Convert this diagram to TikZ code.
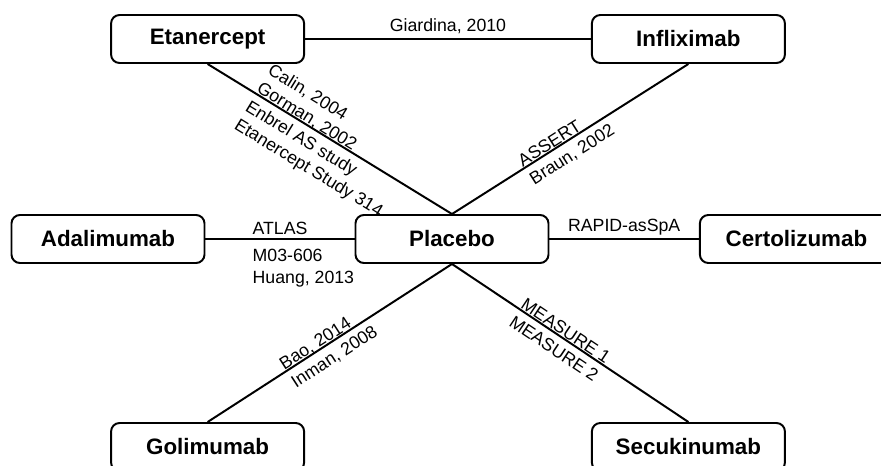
\documentclass[tikz,border=0pt]{standalone}
\usepackage{fontspec}
\setmainfont{Liberation Sans}
\begin{document}
\begin{tikzpicture}[
    drug/.style={draw, line width=1.4pt, rounded corners=6pt, minimum width=4.825cm, minimum height=1.2cm, font=\fontsize{15.9}{19}\selectfont\bfseries},
    study/.style={font=\fontsize{12.6}{15}\selectfont},
    studyup/.style={study, sloped, anchor=south west, align=left, inner xsep=0pt, inner ysep=0.5pt, text depth=0pt},
    studydown/.style={study, sloped, anchor=north west, align=left, inner xsep=0pt, inner ysep=4.5pt},
    link/.style={line width=1.4pt}
  ]
    \useasboundingbox (-11.3, -5.65) rectangle (10.725, 5.975);

    \node[drug] (pla) at (0, 0) {Placebo};
    \node[drug] (eta) at (-6.11, 5) {Etanercept};
    \node[drug] (inf) at (5.91, 5) {Infliximab};
    \node[drug] (ada) at (-8.6, 0) {Adalimumab};
    \node[drug] (cer) at (8.61, 0) {Certolizumab};
    \node[drug] (gol) at (-6.11, -5.2) {Golimumab};
    \node[drug] (sec) at (5.91, -5.2) {Secukinumab};

    \draw[link] (eta) -- (inf) node[study, midway, above, text depth=0pt, inner ysep=4.5pt] {Giardina, 2010};
    \draw[link] (ada) -- (pla) node[studyup, pos=0.31, inner ysep=2.5pt] {ATLAS}
        node[studydown, pos=0.31, inner ysep=6.8pt] {M03-606\\Huang, 2013};
    \draw[link] (pla) -- (cer) node[study, midway, above, text depth=0pt, inner ysep=4.3pt] {RAPID-asSpA};

    \draw[link] (eta.south) -- (pla.north) node[studyup, pos=0.19] {Calin, 2004\\Gorman, 2002}
        node[studydown, pos=0.19] {Enbrel AS study\\Etanercept Study 314};
    \draw[link] (inf.south) -- (pla.north) node[studyup, pos=0.70] {ASSERT}
        node[studydown, pos=0.70] {Braun, 2002};
    \draw[link] (pla.south) -- (gol.north) node[studyup, pos=0.685] {Bao, 2014}
        node[studydown, pos=0.685] {Inman, 2008};
    \draw[link] (pla.south) -- (sec.north) node[studyup, pos=0.28] {MEASURE 1}
        node[studydown, pos=0.28] {MEASURE 2};
\end{tikzpicture}
\end{document}
